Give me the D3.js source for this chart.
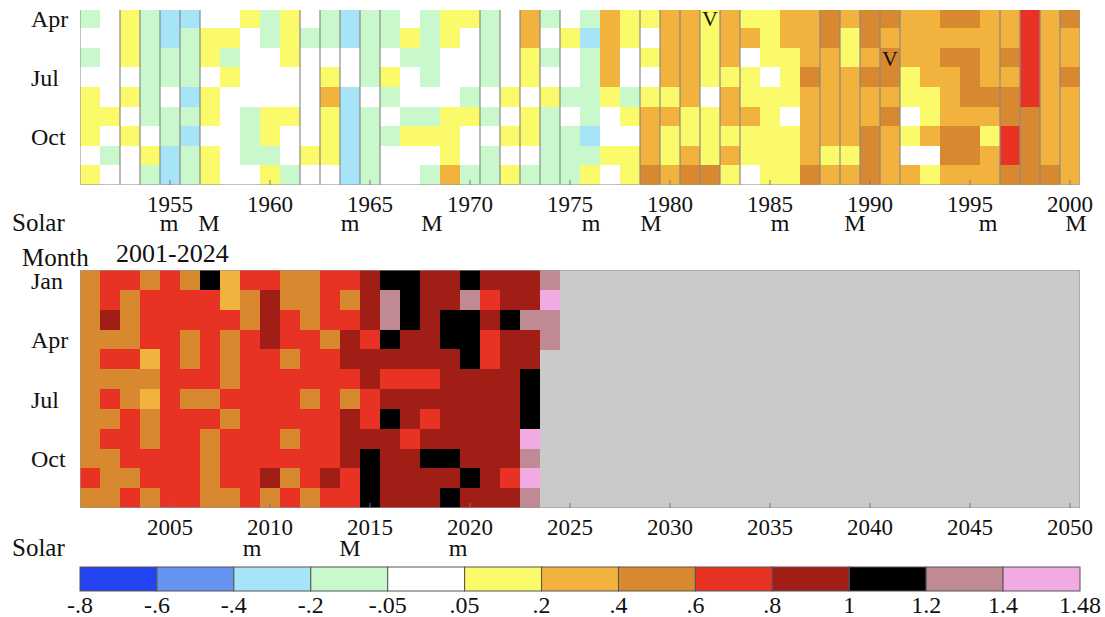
<!DOCTYPE html>
<html>
<head>
<meta charset="utf-8">
<script src="https://cdn.jsdelivr.net/npm/d3@7"></script>
<style>
  body { margin: 0; background: #fff; }
  svg { display: block; font-family: "Liberation Serif", "Times New Roman", serif; }
</style>
</head>
<body>
<svg id="chart" width="1105" height="617"></svg>
<script>
// monthly temperature anomaly (°C), one row per year
const months = ['Jan', 'Feb', 'Mar', 'Apr', 'May', 'Jun', 'Jul', 'Aug', 'Sep', 'Oct', 'Nov', 'Dec']
const topYears = d3.range(1951, 2001)
const bottomYears = d3.range(2001, 2051)

// 1951-2000, Apr..Dec only (Jan-Mar are cut off at the top of the picture)
const topFirstMonth = 3
const topAnoms = [
  [-.1, 0, -.1, 0, .12, .12, .12, 0, .12], // 1951
  [0, 0, 0, 0, 0, .12, 0, -.1, 0],
  [.12, .12, .12, 0, .12, 0, .12, 0, 0],
  [-.1, -.1, -.1, -.1, -.1, -.1, 0, .12, -.1],
  [-.3, -.3, -.1, -.1, 0, -.1, -.1, -.3, -.3], // 1955
  [-.3, -.1, -.1, -.1, -.3, -.1, -.3, -.1, -.1],
  [0, .12, .12, 0, .12, .12, 0, .12, .12],
  [0, .12, -.1, .12, 0, 0, 0, 0, 0],
  [.12, 0, 0, 0, 0, -.1, -.1, -.1, 0],
  [-.1, -.1, 0, 0, 0, .12, .12, -.1, .12], // 1960
  [.12, .12, .12, 0, 0, .12, 0, 0, -.1],
  [0, -.1, 0, 0, 0, 0, 0, .12, 0],
  [-.1, -.1, 0, .12, .3, .12, .12, .12, 0],
  [-.3, -.3, 0, 0, -.3, -.3, -.3, -.3, -.3],
  [-.1, -.1, -.1, -.1, 0, -.1, -.1, -.1, -.1], // 1965
  [-.1, -.1, 0, .12, -.1, 0, -.1, 0, 0],
  [0, .12, -.1, 0, 0, -.1, .12, 0, 0],
  [-.1, -.1, -.1, -.1, 0, -.1, .12, 0, -.1],
  [.12, .12, 0, 0, 0, .12, .12, .12, .3],
  [.12, 0, 0, 0, -.1, .12, 0, 0, -.1], // 1970
  [-.1, -.1, -.1, -.1, 0, -.1, 0, -.1, -.1],
  [0, 0, 0, 0, .12, 0, .12, 0, .12],
  [.3, .3, .12, .12, 0, .12, .12, 0, -.1],
  [-.1, 0, -.1, 0, .12, -.1, -.1, -.1, -.1],
  [0, .12, 0, 0, -.1, 0, -.1, -.1, -.1], // 1975
  [-.1, -.3, -.1, -.1, -.1, -.1, -.3, -.1, .12],
  [.3, .3, .3, .3, .12, 0, 0, .12, 0],
  [.12, .12, 0, 0, -.1, .12, 0, .12, .12],
  [.12, 0, .12, 0, .12, .3, .3, .3, .5],
  [.3, .3, .3, .3, .12, .3, .12, .12, .3], // 1980
  [.3, .3, .3, .3, .3, .12, .12, .3, .5],
  [.12, .12, .12, .12, 0, .12, .12, .12, .5],
  [.3, .3, .3, .12, .3, .3, .12, .3, .12],
  [.12, .3, 0, .12, .12, .3, .12, .12, 0],
  [.12, .12, .12, 0, .12, .12, .12, .12, .12], // 1985
  [.3, .3, .12, .12, .12, 0, .12, .12, .12],
  [.3, .3, .3, .5, .3, .3, .3, .3, .5],
  [.5, .5, .3, .3, .3, .3, .3, .12, .3],
  [.3, .12, .12, .3, .3, .3, .3, .12, .3],
  [.5, .5, .3, .5, .3, .3, .5, .5, .5], // 1990
  [.5, .3, .5, .5, .3, .5, .3, .3, .3],
  [.3, .3, .3, .12, .12, 0, .12, 0, .3],
  [.3, .3, .3, .3, .12, .12, .3, 0, .12],
  [.5, .3, .5, .3, .3, .3, .5, .5, .3],
  [.5, .3, .5, .5, .5, .3, .5, .5, .3], // 1995
  [.3, .3, .3, .3, .5, .3, .12, .3, .3],
  [.3, .3, .5, .3, .5, .5, .7, .7, .5],
  [.7, .7, .7, .7, .7, .5, .5, .5, .5],
  [.3, .3, .3, .3, .3, .3, .3, .3, .5],
  [.5, .3, .3, .5, .3, .3, .3, .3, .3] // 2000
]

// 2001-2024, Jan..Dec (2024 so far)
const bottomAnoms = [
  [.5, .5, .5, .5, .5, .5, .5, .5, .5, .5, .7, .5], // 2001
  [.7, .7, .9, .5, .7, .5, .7, .5, .7, .5, .5, .5],
  [.7, .5, .5, .5, .7, .5, .5, .7, .7, .7, .5, .7],
  [.5, .7, .7, .7, .3, .5, .3, .5, .5, .7, .7, .5],
  [.7, .7, .7, .7, .7, .7, .7, .7, .7, .7, .7, .7], // 2005
  [.5, .7, .7, .5, .5, .7, .5, .7, .7, .7, .7, .7],
  [1.1, .7, .7, .7, .7, .7, .5, .7, .5, .5, .5, .5],
  [.3, .3, .7, .5, .5, .5, .7, .5, .7, .7, .7, .5],
  [.7, .5, .5, .7, .7, .7, .7, .7, .7, .7, .7, .7],
  [.7, .9, .9, .9, .7, .7, .7, .7, .7, .7, .9, .5], // 2010
  [.5, .5, .7, .7, .5, .7, .7, .7, .5, .7, .5, .7],
  [.5, .5, .5, .7, .7, .7, .5, .7, .7, .7, .7, .5],
  [.7, .7, .7, .5, .7, .7, .7, .7, .7, .7, .9, .7],
  [.7, .5, .7, .9, .9, .7, .5, .9, .9, .9, .7, .7],
  [.9, .9, .9, .7, .9, .9, .7, .7, .9, 1.1, 1.1, 1.1], // 2015
  [1.1, 1.3, 1.3, 1.1, .9, .7, .9, 1.1, .9, .9, .9, .9],
  [1.1, 1.1, 1.1, .9, .9, .7, .9, .9, .7, .9, .9, .9],
  [.9, .9, .9, .9, .9, .7, .9, .7, .9, 1.1, .9, .9],
  [.9, .9, 1.1, 1.1, .9, .9, .9, .9, .9, 1.1, .9, 1.1],
  [1.1, 1.3, 1.1, 1.1, 1.1, .9, .9, .9, .9, .9, 1.1, .9], // 2020
  [.9, .7, .9, .7, .7, .9, .9, .9, .9, .9, .9, .9],
  [.9, .9, 1.1, .9, .9, .9, .9, .9, .9, .9, .7, .9],
  [.9, .9, 1.3, .9, .9, 1.1, 1.1, 1.1, 1.44, 1.3, 1.44, 1.3],
  [1.3, 1.44, 1.3, 1.3] // 2024
]

const legendBreaks = [-.8, -.6, -.4, -.2, -.05, .05, .2, .4, .6, .8, 1, 1.2, 1.4, 1.48]
const legendLabels = ['-.8', '-.6', '-.4', '-.2', '-.05', '.05', '.2', '.4', '.6', '.8', '1', '1.2', '1.4', '1.48']
const legendColors = ['#2444f2', '#6494f0', '#a8e4f8', '#c8f8cc', '#ffffff', '#fafa6a', '#f2b23e',
  '#d8882e', '#e83324', '#a01e16', '#000000', '#c08a94', '#f2aae2']

// solar minimum (m) / maximum (M), as decimal year positions
const solarYears = [1955.45, 1957.45, 1964.5, 1968.6, 1976.55, 1979.55, 1986.0, 1989.75, 1996.4, 2000.8,
  2009.6, 2014.5, 2019.9]
const solarKinds = ['m', 'M', 'm', 'M', 'm', 'M', 'm', 'M', 'm', 'M', 'm', 'M', 'm']

// volcanic eruptions (El Chichón, Pinatubo)
const volcanoYears = [1982, 1991]
const volcanoMonths = ['Apr', 'Jun']

const topTicks = d3.range(1955, 2001, 5)
const bottomTicks = d3.range(2005, 2051, 5)
// thin grey column separators seen in the upper panel
const topDividers = [1953, 1954, 1955, 1956, 1957, 1962, 1963, 1964, 1965, 1966, 1971, 1972, 1973, 1974, 1975,
  1979, 1980, 1981, 1982, 1983, 1984, 1988, 1989, 1990, 1991, 1992, 1997, 1998, 1999, 2000]

const svg = d3.select('#chart')
const color = d3.scaleThreshold()
  .domain(legendBreaks.slice(1, -1))
  .range(legendColors)

const left = 80
const right = 1080

function drawPanel (o) {
  const x = d3.scaleBand().domain(o.years).range([left, right])
  const y = d3.scaleBand().domain(months).range([o.top, o.bottom])
  const xLin = d3.scaleLinear().domain([o.years[0], o.years[0] + o.years.length]).range([left, right])

  svg.append('clipPath').attr('id', o.id)
    .append('rect')
    .attr('x', left).attr('y', o.clipTop)
    .attr('width', right - left).attr('height', o.bottom - o.clipTop)

  const g = svg.append('g').attr('clip-path', `url(#${o.id})`)
  g.append('rect')
    .attr('x', left).attr('y', o.top)
    .attr('width', right - left).attr('height', o.bottom - o.top)
    .attr('fill', o.empty)

  const cells = o.rows.flatMap((vals, i) => vals.map((v, j) => ({
    year: o.years[i], month: months[o.firstMonth + j], v
  })))
  g.selectAll('rect.cell')
    .data(cells)
    .join('rect')
    .attr('class', 'cell')
    .attr('x', d => x(d.year))
    .attr('y', d => y(d.month))
    .attr('width', x.bandwidth() + 0.4)
    .attr('height', y.bandwidth() + 0.4)
    .attr('fill', d => color(d.v))
    .attr('shape-rendering', 'crispEdges')

  g.selectAll('line.div')
    .data(o.dividers)
    .join('line')
    .attr('class', 'div')
    .attr('x1', d => x(d)).attr('x2', d => x(d))
    .attr('y1', o.top).attr('y2', o.bottom)
    .attr('stroke', '#8a8a8a')
    .attr('stroke-width', 1.2)

  g.append('rect')
    .attr('x', left).attr('y', o.top)
    .attr('width', right - left).attr('height', o.bottom - o.top)
    .attr('fill', 'none')
    .attr('stroke', '#9a9a9a')
    .attr('stroke-width', 1.2)

  // volcano marks
  g.selectAll('text.v')
    .data(o.volcanoes)
    .join('text')
    .attr('x', d => x(d[0]) + x.bandwidth() / 2)
    .attr('y', d => y(d[1]) + y.bandwidth() / 2 + 8)
    .attr('text-anchor', 'middle')
    .attr('font-size', 22)
    .attr('fill', '#111')
    .text('V')

  // month labels
  svg.append('g')
    .selectAll('text')
    .data(['Jan', 'Apr', 'Jul', 'Oct'].filter(m => y(m) + y.bandwidth() / 2 > o.clipTop))
    .join('text')
    .attr('x', 31)
    .attr('y', d => y(d) + y.bandwidth() / 2 + 9)
    .attr('font-size', 24)
    .attr('fill', '#111')
    .text(d => d)

  // year axis, ticks pointing up into the panel
  const axis = svg.append('g')
    .attr('transform', `translate(0,${o.bottom})`)
    .call(d3.axisBottom(x).tickValues(o.ticks).tickSizeInner(-5).tickSizeOuter(0).tickPadding(11))
  axis.select('.domain').remove()
  axis.selectAll('line').attr('stroke', '#777')
  axis.selectAll('text')
    .attr('font-size', 23)
    .attr('font-family', '"Liberation Serif", serif')
    .attr('fill', '#111')

  // solar cycle row
  const solar = svg.append('g').attr('font-size', 24).attr('fill', '#111')
  solar.append('text').attr('x', 12).attr('y', o.solarY).attr('font-size', 25).text('Solar')
  const idx = d3.range(solarYears.length)
    .filter(i => solarYears[i] >= o.years[0] && solarYears[i] < o.years[0] + o.years.length)
  solar.selectAll('text.s')
    .data(idx)
    .join('text')
    .attr('class', 's')
    .attr('x', i => xLin(solarYears[i]))
    .attr('y', o.solarY)
    .attr('text-anchor', 'middle')
    .text(i => solarKinds[i])
}

const rowH = 19.6
drawPanel({
  id: 'clipTop',
  years: topYears,
  rows: topAnoms,
  firstMonth: topFirstMonth,
  top: 185 - 12 * rowH,
  bottom: 185,
  clipTop: 10,
  empty: '#ffffff',
  ticks: topTicks,
  dividers: topDividers,
  volcanoes: volcanoYears.map((yr, i) => [yr, volcanoMonths[i]]),
  solarY: 231
})

drawPanel({
  id: 'clipBottom',
  years: bottomYears,
  rows: bottomAnoms,
  firstMonth: 0,
  top: 270,
  bottom: 508,
  clipTop: 270,
  empty: '#cacaca',
  ticks: bottomTicks,
  dividers: [],
  volcanoes: [],
  solarY: 556
})

svg.append('text').attr('x', 22).attr('y', 266).attr('font-size', 25).attr('fill', '#111').text('Month')
svg.append('text').attr('x', 116).attr('y', 262).attr('font-size', 26).attr('fill', '#111').text('2001-2024')

// colour bar
const lx = d3.scaleLinear().domain([0, legendColors.length]).range([left, right])
const legend = svg.append('g')
legend.selectAll('rect')
  .data(legendColors)
  .join('rect')
  .attr('x', (d, i) => lx(i))
  .attr('y', 567)
  .attr('width', lx(1) - lx(0))
  .attr('height', 24)
  .attr('fill', d => d)
  .attr('stroke', '#555')
  .attr('stroke-width', 1)
legend.selectAll('text')
  .data(legendLabels)
  .join('text')
  .attr('x', (d, i) => lx(i))
  .attr('y', 613)
  .attr('text-anchor', 'middle')
  .attr('font-size', 24)
  .attr('fill', '#111')
  .text(d => d)
</script>
</body>
</html>
